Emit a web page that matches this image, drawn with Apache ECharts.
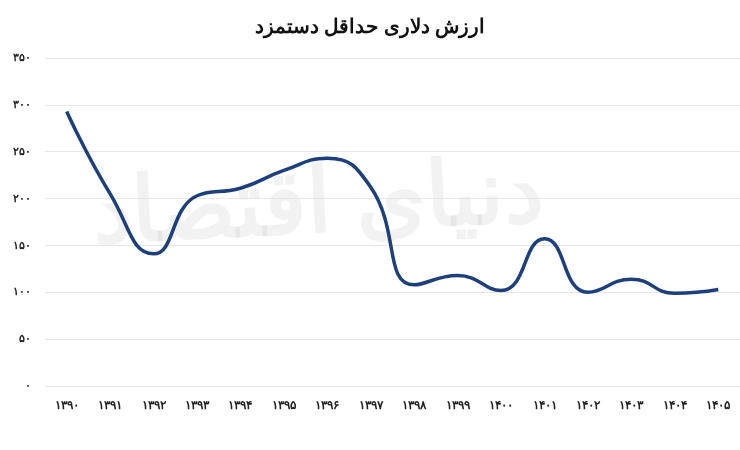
<!DOCTYPE html>
<html><head><meta charset="utf-8">
<script src="https://cdn.jsdelivr.net/npm/echarts@6/dist/echarts.min.js"></script>
<style>body{margin:0}#c{width:740px;height:450px}</style></head>
<body><div id="c"></div>
<script>
const categories=['۱۳۹۰','۱۳۹۱','۱۳۹۲','۱۳۹۳','۱۳۹۴','۱۳۹۵','۱۳۹۶','۱۳۹۷','۱۳۹۸','۱۳۹۹','۱۴۰۰','۱۴۰۱','۱۴۰۲','۱۴۰۳','۱۴۰۴','۱۴۰۵'];
const values=[293,205,141,203,211,230,243,212,108,118,102,157,100,114,99,103];
const yLabels={0:'۰',50:'۵۰',100:'۱۰۰',150:'۱۵۰',200:'۲۰۰',250:'۲۵۰',300:'۳۰۰',350:'۳۵۰'};
const chart=echarts.init(document.getElementById('c'));
chart.setOption({
  title:{text:'ارزش دلاری حداقل دستمزد',left:'center',top:12,textStyle:{fontFamily:'Noto Sans',fontSize:20,fontWeight:'bold',color:'#111'}},
  graphic:[{type:'text',left:90,top:150,rotation:0.05,style:{text:'دنیای اقتصاد',font:'bold 90px "Noto Sans"',fill:'rgba(0,0,0,0.05)'}}],
  grid:{left:45,right:0,top:58,bottom:64},
  xAxis:{type:'category',data:categories,boundaryGap:true,axisLine:{show:false},axisTick:{show:false},
    axisLabel:{margin:14,fontFamily:'Noto Sans',fontWeight:'bold',fontSize:12,color:'#222'}},
  yAxis:{type:'value',min:0,max:350,interval:50,
    axisLabel:{formatter:v=>yLabels[v],fontFamily:'Noto Sans',fontWeight:'bold',fontSize:11,color:'#222',margin:14},
    splitLine:{lineStyle:{color:'#e6e6e6'}}},
  series:[{type:'line',data:values,smooth:0.5,symbol:'none',lineStyle:{color:'#1d3f7c',width:3.5}}]
});
</script></body></html>
